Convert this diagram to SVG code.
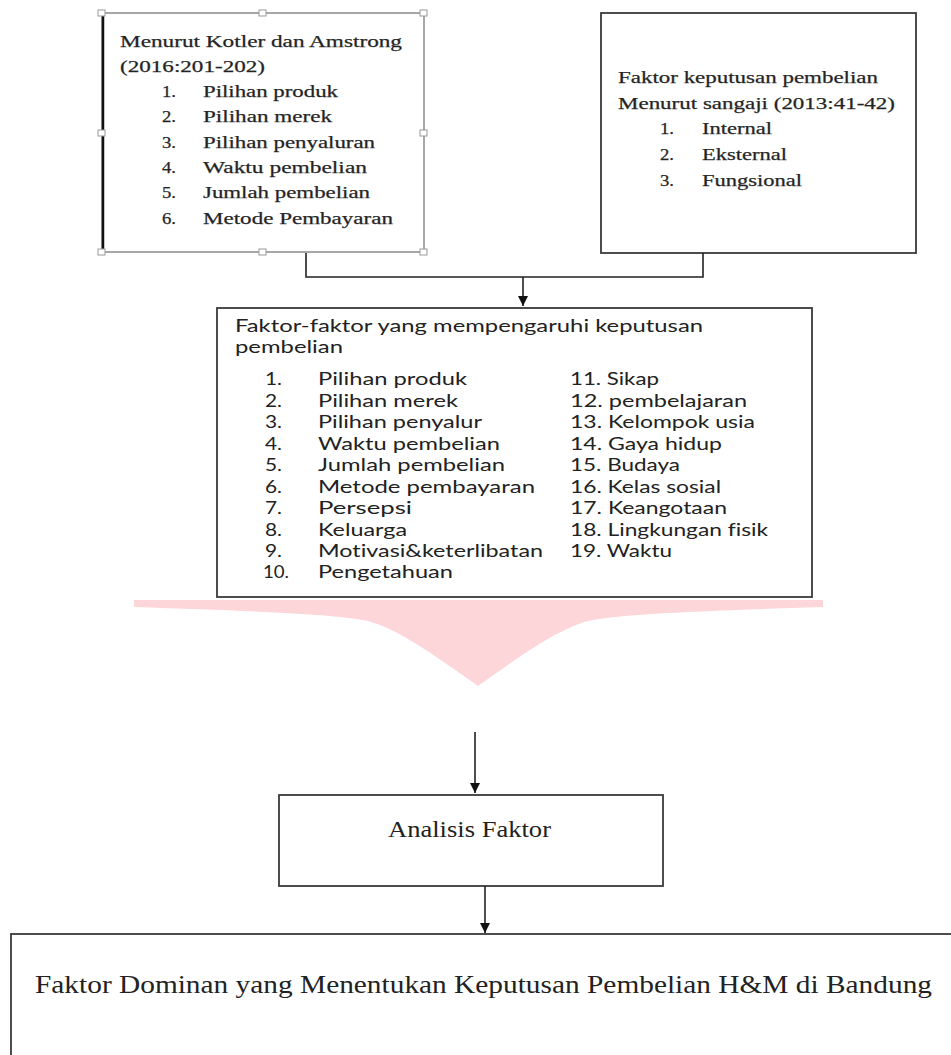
<svg xmlns="http://www.w3.org/2000/svg" width="951" height="1055" viewBox="0 0 951 1055">
<defs>
<marker id="arr" markerWidth="12" markerHeight="12" refX="10" refY="5" orient="auto" markerUnits="userSpaceOnUse">
<path d="M0,0 L10,5 L0,10 Z" fill="#111"/>
</marker>
<style>
.serif{font-family:"Liberation Serif","Times New Roman",serif;fill:#222;}
.sans{font-family:Lato,"Open Sans","Liberation Sans",sans-serif;fill:#222;font-variant-ligatures:none;}
.s16{font-size:16px;stroke:#333;stroke-width:0.25;}
.m{font-size:16.5px;}
.box{fill:#fff;stroke:#3a3a3a;stroke-width:1.8;}
.conn{fill:none;stroke:#222;stroke-width:1.6;}
.handle{fill:#fff;stroke:#999;stroke-width:1;}
</style>
</defs>
<rect width="951" height="1055" fill="#fff"/>

<g id="node-kotler">
<rect x="102" y="13" width="322" height="239" fill="#fff" stroke="#8a8a8a" stroke-width="1.5"/>
<line x1="103" y1="13" x2="103" y2="252" stroke="#111" stroke-width="2.5"/>
<rect class="handle" x="98" y="10" width="7" height="6"/>
<rect class="handle" x="259" y="10" width="7" height="6"/>
<rect class="handle" x="420" y="10" width="7" height="6"/>
<rect class="handle" x="98" y="130" width="7" height="6"/>
<rect class="handle" x="420" y="130" width="7" height="6"/>
<rect class="handle" x="98" y="249" width="7" height="6"/>
<rect class="handle" x="259" y="249" width="7" height="6"/>
<rect class="handle" x="420" y="249" width="7" height="6"/>
<text class="serif s16" x="120" y="47" textLength="282" lengthAdjust="spacingAndGlyphs">Menurut Kotler dan Amstrong</text>
<text class="serif s16" x="120" y="72" textLength="145" lengthAdjust="spacingAndGlyphs">(2016:201-202)</text>
<text class="serif s16" x="162" y="97" textLength="14" lengthAdjust="spacingAndGlyphs">1.</text>
<text class="serif s16" x="203" y="97" textLength="135" lengthAdjust="spacingAndGlyphs">Pilihan produk</text>
<text class="serif s16" x="162" y="122" textLength="14" lengthAdjust="spacingAndGlyphs">2.</text>
<text class="serif s16" x="203" y="122" textLength="129" lengthAdjust="spacingAndGlyphs">Pilihan merek</text>
<text class="serif s16" x="162" y="148" textLength="14" lengthAdjust="spacingAndGlyphs">3.</text>
<text class="serif s16" x="203" y="148" textLength="172" lengthAdjust="spacingAndGlyphs">Pilihan penyaluran</text>
<text class="serif s16" x="162" y="173" textLength="14" lengthAdjust="spacingAndGlyphs">4.</text>
<text class="serif s16" x="203" y="173" textLength="164" lengthAdjust="spacingAndGlyphs">Waktu pembelian</text>
<text class="serif s16" x="162" y="198" textLength="14" lengthAdjust="spacingAndGlyphs">5.</text>
<text class="serif s16" x="203" y="198" textLength="167" lengthAdjust="spacingAndGlyphs">Jumlah pembelian</text>
<text class="serif s16" x="162" y="224" textLength="14" lengthAdjust="spacingAndGlyphs">6.</text>
<text class="serif s16" x="203" y="224" textLength="190" lengthAdjust="spacingAndGlyphs">Metode Pembayaran</text>
</g>

<g id="node-sangaji">
<rect class="box" x="601" y="13" width="315" height="240"/>
<text class="serif s16" x="618" y="83" textLength="260" lengthAdjust="spacingAndGlyphs">Faktor keputusan pembelian</text>
<text class="serif s16" x="618" y="109" textLength="277" lengthAdjust="spacingAndGlyphs">Menurut sangaji (2013:41-42)</text>
<text class="serif s16" x="660" y="134" textLength="14" lengthAdjust="spacingAndGlyphs">1.</text>
<text class="serif s16" x="702" y="134" textLength="70" lengthAdjust="spacingAndGlyphs">Internal</text>
<text class="serif s16" x="660" y="160" textLength="14" lengthAdjust="spacingAndGlyphs">2.</text>
<text class="serif s16" x="702" y="160" textLength="85" lengthAdjust="spacingAndGlyphs">Eksternal</text>
<text class="serif s16" x="660" y="186" textLength="14" lengthAdjust="spacingAndGlyphs">3.</text>
<text class="serif s16" x="702" y="186" textLength="100" lengthAdjust="spacingAndGlyphs">Fungsional</text>
</g>

<g id="node-faktor">
<rect class="box" x="217" y="308" width="595" height="289"/>
<text class="sans m" x="235" y="332" textLength="468" lengthAdjust="spacingAndGlyphs">Faktor-faktor yang mempengaruhi keputusan</text>
<text class="sans m" x="235" y="353" textLength="108" lengthAdjust="spacingAndGlyphs">pembelian</text>
<g class="sans m">
<text x="265" y="385" textLength="17" lengthAdjust="spacingAndGlyphs">1.</text><text x="318" y="385" textLength="149" lengthAdjust="spacingAndGlyphs">Pilihan produk</text>
<text x="265" y="407" textLength="17" lengthAdjust="spacingAndGlyphs">2.</text><text x="318" y="407" textLength="140" lengthAdjust="spacingAndGlyphs">Pilihan merek</text>
<text x="265" y="428" textLength="17" lengthAdjust="spacingAndGlyphs">3.</text><text x="318" y="428" textLength="164" lengthAdjust="spacingAndGlyphs">Pilihan penyalur</text>
<text x="265" y="450" textLength="17" lengthAdjust="spacingAndGlyphs">4.</text><text x="318" y="450" textLength="182" lengthAdjust="spacingAndGlyphs">Waktu pembelian</text>
<text x="265" y="471" textLength="17" lengthAdjust="spacingAndGlyphs">5.</text><text x="318" y="471" textLength="187" lengthAdjust="spacingAndGlyphs">Jumlah pembelian</text>
<text x="265" y="493" textLength="17" lengthAdjust="spacingAndGlyphs">6.</text><text x="318" y="493" textLength="217" lengthAdjust="spacingAndGlyphs">Metode pembayaran</text>
<text x="265" y="514" textLength="17" lengthAdjust="spacingAndGlyphs">7.</text><text x="318" y="514" textLength="94" lengthAdjust="spacingAndGlyphs">Persepsi</text>
<text x="265" y="536" textLength="17" lengthAdjust="spacingAndGlyphs">8.</text><text x="318" y="536" textLength="89" lengthAdjust="spacingAndGlyphs">Keluarga</text>
<text x="265" y="557" textLength="17" lengthAdjust="spacingAndGlyphs">9.</text><text x="318" y="557" textLength="225" lengthAdjust="spacingAndGlyphs">Motivasi&amp;keterlibatan</text>
<text x="263" y="578" textLength="26" lengthAdjust="spacingAndGlyphs">10.</text><text x="318" y="578" textLength="135" lengthAdjust="spacingAndGlyphs">Pengetahuan</text>
<text x="570" y="385" textLength="89" lengthAdjust="spacingAndGlyphs">11. Sikap</text>
<text x="570" y="407" textLength="177" lengthAdjust="spacingAndGlyphs">12. pembelajaran</text>
<text x="570" y="428" textLength="185" lengthAdjust="spacingAndGlyphs">13. Kelompok usia</text>
<text x="570" y="450" textLength="152" lengthAdjust="spacingAndGlyphs">14. Gaya hidup</text>
<text x="570" y="471" textLength="110" lengthAdjust="spacingAndGlyphs">15. Budaya</text>
<text x="570" y="493" textLength="151" lengthAdjust="spacingAndGlyphs">16. Kelas sosial</text>
<text x="570" y="514" textLength="157" lengthAdjust="spacingAndGlyphs">17. Keangotaan</text>
<text x="570" y="536" textLength="198" lengthAdjust="spacingAndGlyphs">18. Lingkungan fisik</text>
<text x="570" y="557" textLength="102" lengthAdjust="spacingAndGlyphs">19. Waktu</text>
</g>
</g>

<g id="node-funnel">
<path d="M134,600 L823,600 L823,607 C700,611 620,614 588,621 C555,630 515,660 478,686 C441,660 401,630 368,621 C336,614 256,611 134,607 Z" fill="#fdd6da"/>
</g>

<g id="node-analisis">
<rect class="box" x="279" y="795" width="384" height="91"/>
<text class="serif" x="388" y="837" font-size="23" textLength="163" lengthAdjust="spacingAndGlyphs">Analisis Faktor</text>
</g>

<g id="node-dominan">
<rect class="box" x="11" y="934" width="960" height="150"/>
<text class="serif" x="35" y="993" font-size="26" textLength="897" lengthAdjust="spacingAndGlyphs">Faktor Dominan yang Menentukan Keputusan Pembelian H&amp;M di Bandung</text>
</g>

<g id="connectors">
<polyline class="conn" points="306,253 306,277 703,277 703,253"/>
<line class="conn" x1="523" y1="277" x2="523" y2="306" marker-end="url(#arr)"/>
<line class="conn" x1="475" y1="732" x2="475" y2="793" marker-end="url(#arr)"/>
<line class="conn" x1="485" y1="886" x2="485" y2="933" marker-end="url(#arr)"/>
</g>
</svg>
